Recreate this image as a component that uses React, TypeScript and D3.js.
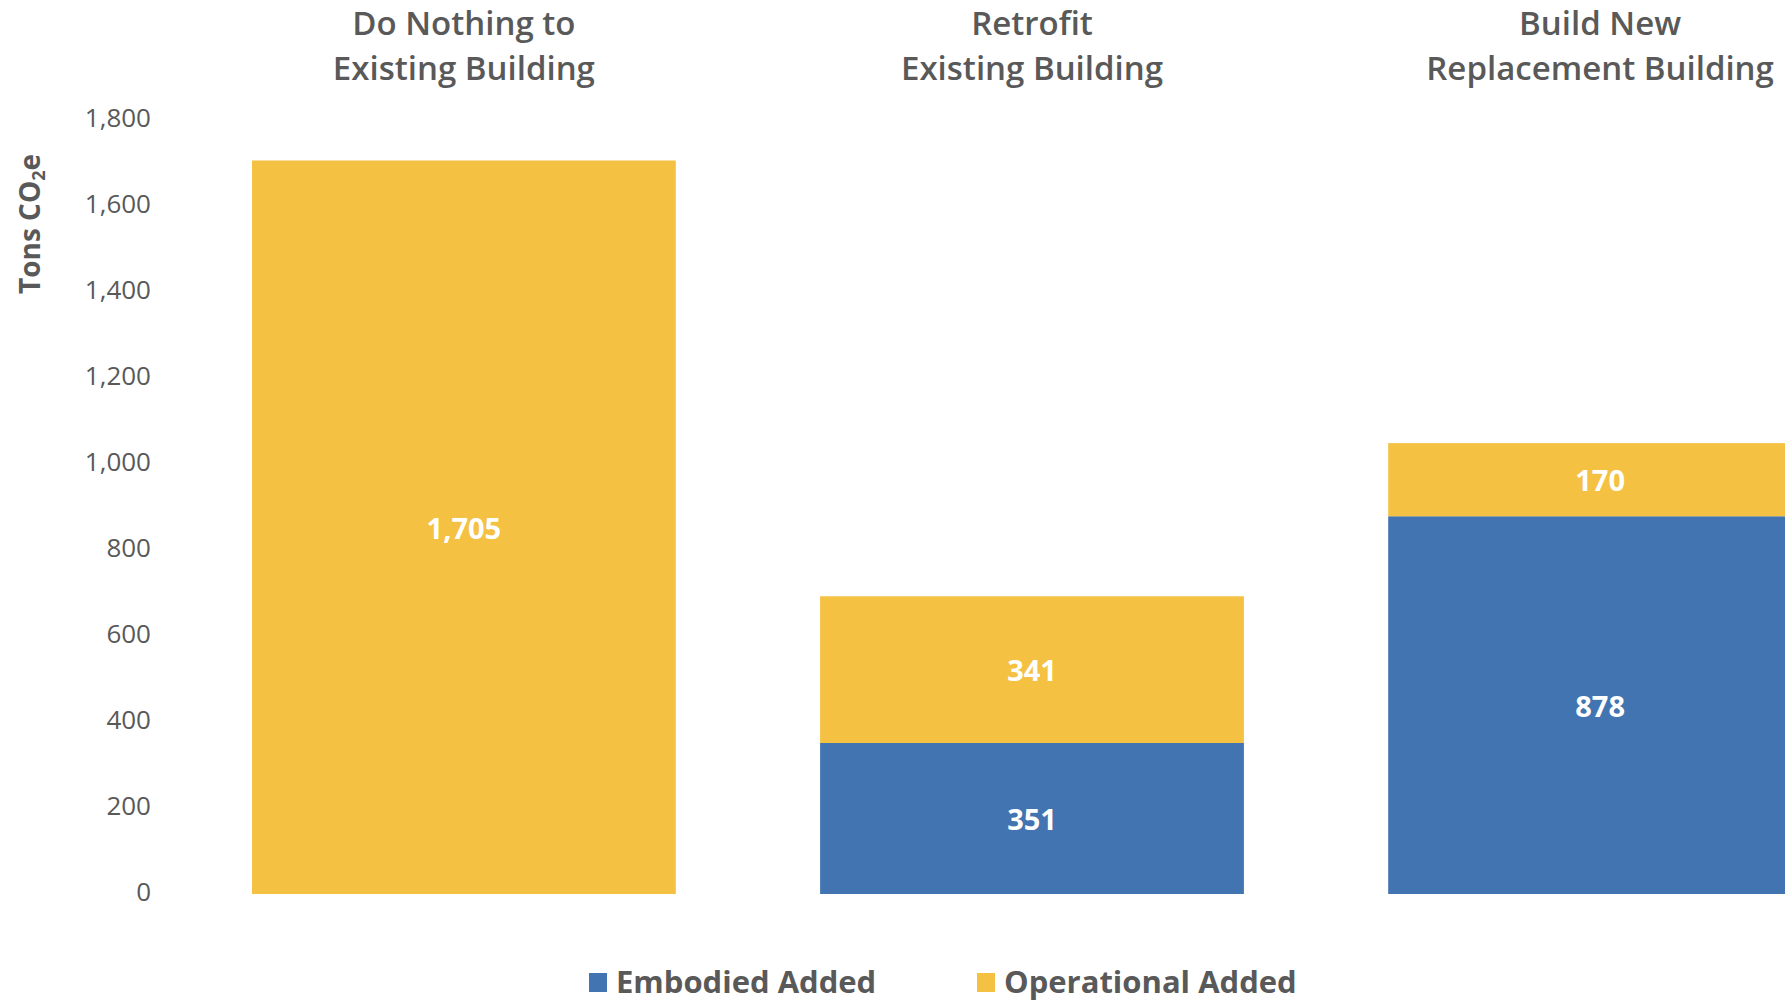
import React from "react";
import * as d3 from "d3";

const categories: string[][] = [
  ["Do Nothing to", "Existing Building"],
  ["Retrofit", "Existing Building"],
  ["Build New", "Replacement Building"],
];
const embodied: number[] = [0, 351, 878];
const operational: number[] = [1705, 341, 170];
const yTicks: number[] = [0, 200, 400, 600, 800, 1000, 1200, 1400, 1600, 1800];
const seriesNames: string[] = ["Embodied Added", "Operational Added"];

const W = 1785;
const H = 1002;
const BLUE = "#4174B0";
const YELLOW = "#F5C142";
const GRAY = "#595959";
const FONT = "'Open Sans', 'Noto Sans', sans-serif";

export default function App() {
  const y = d3.scaleLinear().domain([0, 1800]).range([894, 119.6]);
  const x = d3
    .scaleBand<number>()
    .domain([0, 1, 2])
    .range([252, 1812])
    .paddingInner(0.254)
    .paddingOuter(0);
  const fmt = d3.format(",");
  const bw = x.bandwidth();

  return (
    <svg
      width={W}
      height={H}
      style={{ position: "absolute", left: 0, top: 0, background: "#fff" }}
      fontFamily={FONT}
    >
      <rect x={0} y={0} width={W} height={H} fill="#fff" />
      {/* y tick labels */}
      {yTicks.map((t) => (
        <text
          key={t}
          x={151}
          y={y(t) - 3}
          textAnchor="end"
          dominantBaseline="central"
          fontSize={26}
          fill={GRAY}
        >
          {fmt(t)}
        </text>
      ))}
      {/* y axis title */}
      <text
        transform={`translate(40,224) rotate(-90)`}
        textAnchor="middle"
        fontSize={28}
        fontWeight={700}
        fill={GRAY}
      >
        Tons CO
        <tspan fontSize={18} dy={5}>
          2
        </tspan>
        <tspan dy={-5}>e</tspan>
      </text>
      {/* bars */}
      {categories.map((c, i) => {
        const x0 = x(i) as number;
        const e = embodied[i];
        const o = operational[i];
        const cx = x0 + bw / 2;
        return (
          <g key={i}>
            {e > 0 && (
              <rect x={x0} y={y(e)} width={bw} height={y(0) - y(e)} fill={BLUE} />
            )}
            <rect x={x0} y={y(e + o)} width={bw} height={y(e) - y(e + o)} fill={YELLOW} />
            {e > 0 && (
              <text
                x={cx}
                y={(y(0) + y(e)) / 2}
                textAnchor="middle"
                dominantBaseline="central"
                fontSize={29}
                fontWeight={700}
                fill="#fff"
              >
                {fmt(e)}
              </text>
            )}
            <text
              x={cx}
              y={(y(e) + y(e + o)) / 2}
              textAnchor="middle"
              dominantBaseline="central"
              fontSize={29}
              fontWeight={700}
              fill="#fff"
            >
              {fmt(o)}
            </text>
            {/* category titles */}
            {c.map((line, li) => (
              <text
                key={li}
                x={cx}
                y={22 + li * 45}
                textAnchor="middle"
                dominantBaseline="central"
                fontSize={33}
                fontWeight={600}
                fill={GRAY}
              >
                {line}
              </text>
            ))}
          </g>
        );
      })}
      {/* legend */}
      {seriesNames.map((s, i) => {
        const lx = [589, 977][i];
        return (
          <g key={s}>
            <rect x={lx} y={973} width={18} height={19} fill={i === 0 ? BLUE : YELLOW} />
            <text
              x={lx + 27}
              y={981}
              dominantBaseline="central"
              fontSize={31}
              fontWeight={700}
              fill={GRAY}
            >
              {s}
            </text>
          </g>
        );
      })}
    </svg>
  );
}
